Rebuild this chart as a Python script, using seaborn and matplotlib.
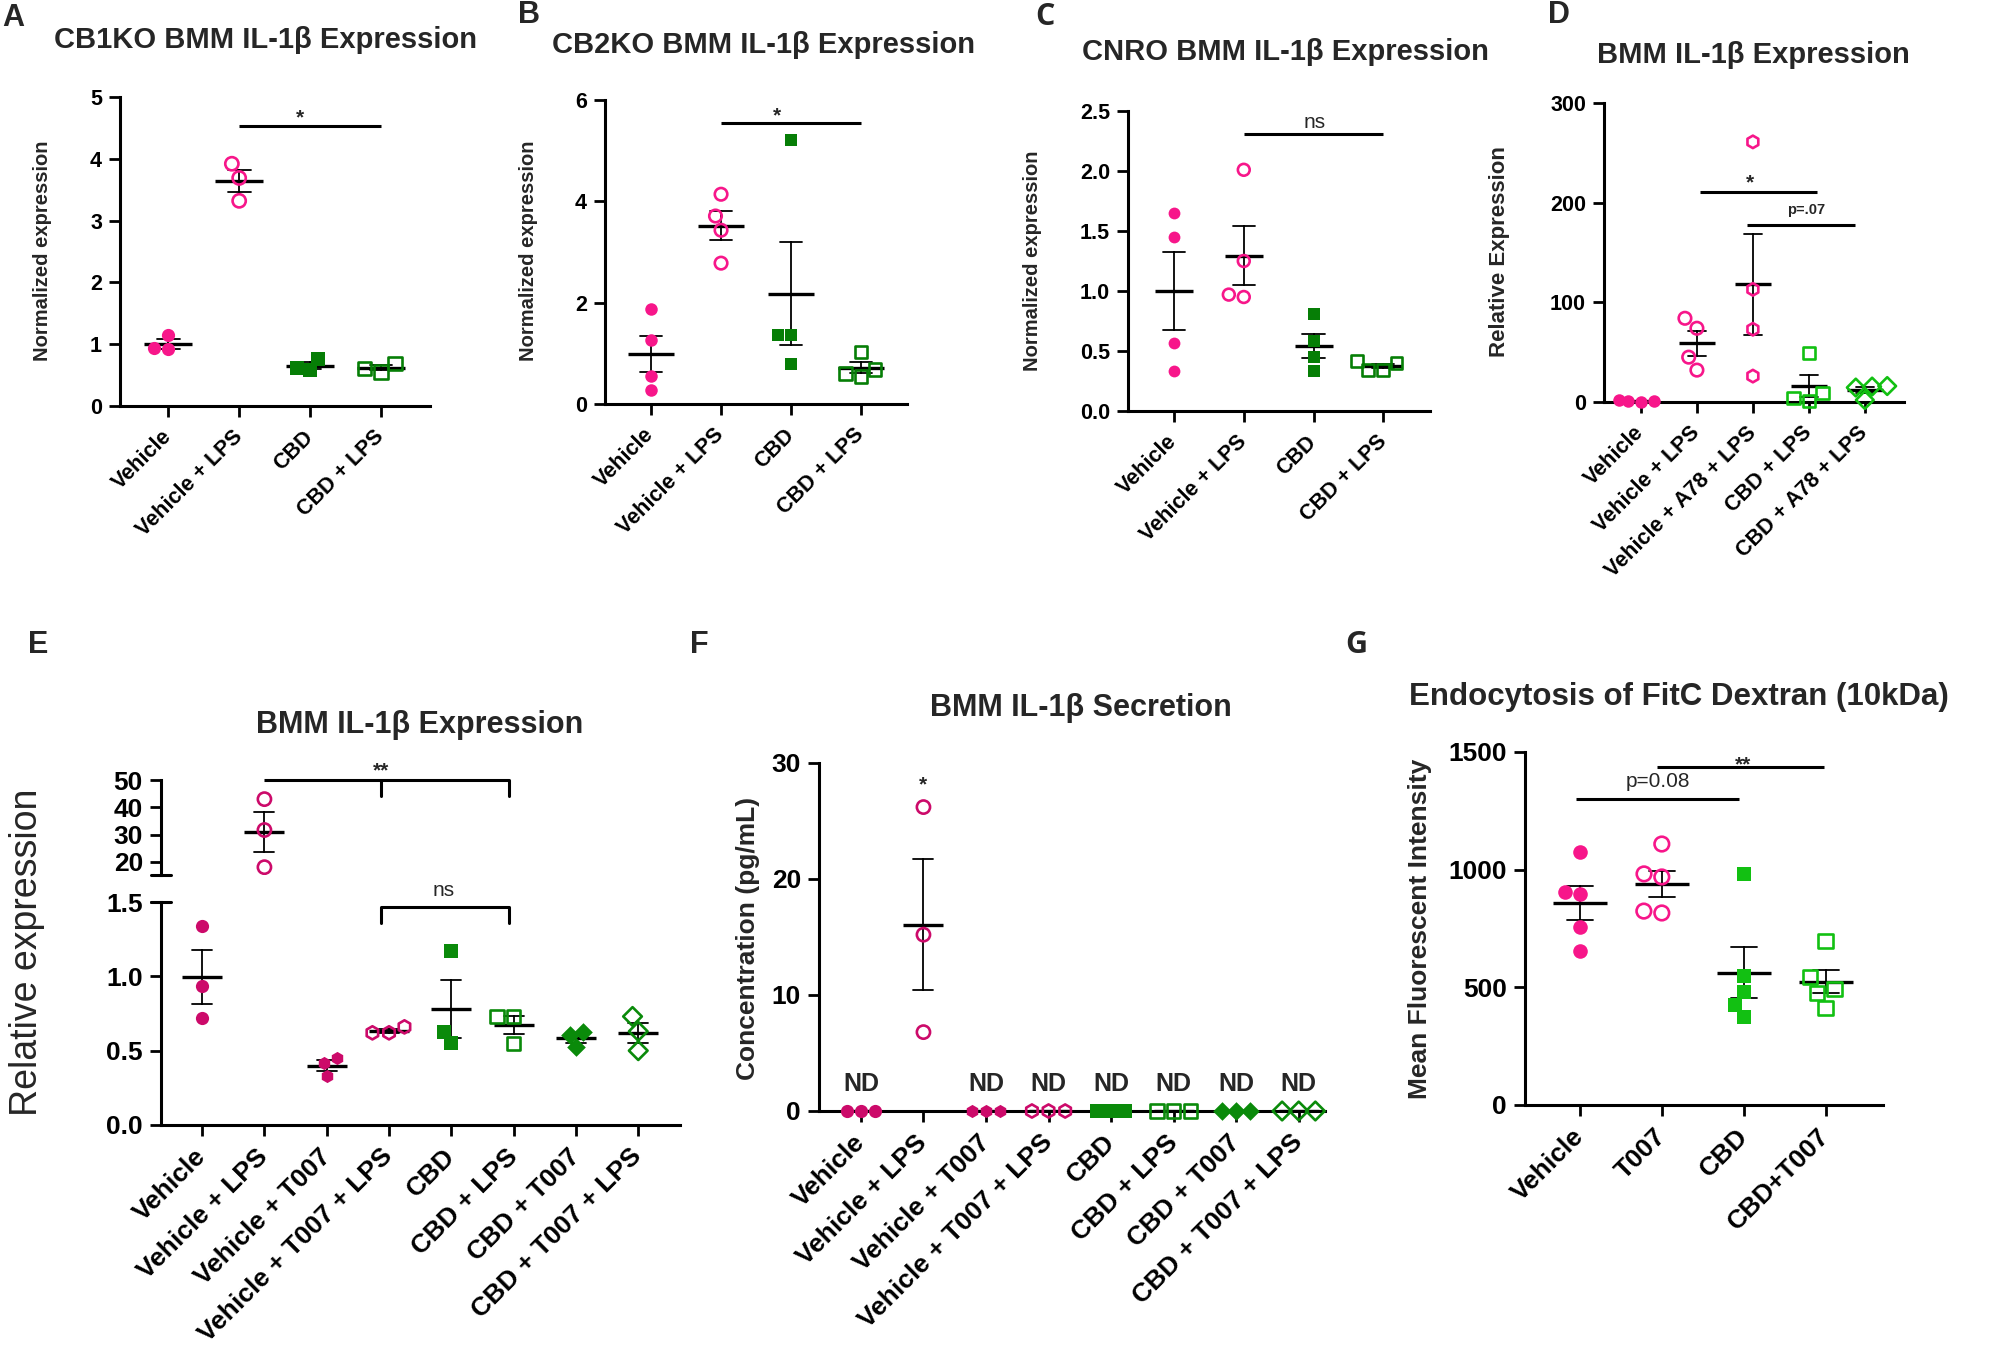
import numpy as np
import pandas as pd
import matplotlib
matplotlib.use("Agg")
import matplotlib.pyplot as plt
import seaborn as sns

sns.set_theme(style="ticks")
plt.rcParams["font.family"] = ["Liberation Sans", "DejaVu Sans"]
plt.rcParams["font.weight"] = "bold"
plt.rcParams["axes.linewidth"] = 2.2
plt.rcParams["axes.edgecolor"] = "black"
plt.rcParams["xtick.color"] = "black"
plt.rcParams["ytick.color"] = "black"

W, H = 1997, 1345

PINK = "#F7168A"
DKGREEN = "#067E06"
LTGREEN = "#12C012"
MAGENTA = "#CC0A6A"
EFGREEN = "#0A8A0A"

# ---- data ----
cats_top = ["Vehicle", "Vehicle + LPS", "CBD", "CBD + LPS"]
a_vals = [[1.15, 0.92, 0.94], [3.92, 3.69, 3.32], [0.58, 0.76, 0.62], [0.55, 0.69, 0.61]]
b_vals = [[1.87, 1.26, 0.55, 0.28], [4.14, 3.71, 3.43, 2.78],
          [5.22, 1.36, 1.36, 0.78], [1.03, 0.54, 0.68, 0.60]]
c_vals = [[1.65, 1.45, 0.57, 0.33], [2.01, 1.25, 0.95, 0.97],
          [0.81, 0.58, 0.45, 0.33], [0.34, 0.42, 0.34, 0.40]]

cats_d = ["Vehicle", "Vehicle + LPS", "Vehicle + A78 + LPS", "CBD + LPS", "CBD + A78 + LPS"]
d_vals = [[0.5, 1.6, 0.9, 1.0], [74, 84, 45, 32], [261, 113, 73, 26],
          [49, 1, 9, 4], [15.5, 14.5, 16, 2]]

cats_ef = ["Vehicle", "Vehicle + LPS", "Vehicle + T007", "Vehicle + T007 + LPS",
           "CBD", "CBD + LPS", "CBD + T007", "CBD + T007 + LPS"]
e_vals = [[1.34, 0.935, 0.72], [43.0, 31.7, 18.1], [0.45, 0.417, 0.33], [0.62, 0.66, 0.62],
          [1.17, 0.55, 0.625], [0.73, 0.73, 0.55], [0.625, 0.605, 0.525], [0.73, 0.63, 0.50]]
f_vals = [[0, 0, 0], [26.2, 15.2, 6.8], [0, 0, 0], [0, 0, 0],
          [0, 0, 0], [0, 0, 0], [0, 0, 0], [0, 0, 0]]
f_nd = ["ND", "", "ND", "ND", "ND", "ND", "ND", "ND"]

cats_g = ["Vehicle", "T007", "CBD", "CBD+T007"]
g_vals = [[1075, 897, 905, 756, 654], [1109, 969, 982, 816, 824],
          [982, 548, 480, 425, 374], [697, 493, 544, 476, 412]]

# marker style per group: (marker, color, filled)
sty_top = [("o", PINK, True), ("o", PINK, False), ("s", DKGREEN, True), ("s", DKGREEN, False)]
sty_d = [("o", PINK, True), ("o", PINK, False), ("h", PINK, False),
         ("s", LTGREEN, False), ("D", LTGREEN, False)]
sty_ef = [("o", MAGENTA, True), ("o", MAGENTA, False), ("h", MAGENTA, True), ("h", MAGENTA, False),
          ("s", EFGREEN, True), ("s", EFGREEN, False), ("D", EFGREEN, True), ("D", EFGREEN, False)]
sty_g = [("o", PINK, True), ("o", PINK, False), ("s", LTGREEN, True), ("s", LTGREEN, False)]


def box(x0, y0, x1, y1):
    return [x0 / W, 1 - y1 / H, (x1 - x0) / W, (y1 - y0) / H]


def ftext(x, y, s, **kw):
    fig.text(x / W, 1 - y / H, s, **kw)


def long_df(cats, vals):
    rows = [(c, v) for c, vs in zip(cats, vals) for v in vs]
    return pd.DataFrame(rows, columns=["group", "value"])


def dots(ax, cats, vals, styles, size, mean_pts, clip=False):
    df = long_df(cats, vals)
    for cat, (marker, color, filled) in zip(cats, styles):
        sub = df[df["group"] == cat]
        n0 = len(ax.collections)
        sns.swarmplot(data=sub, x="group", y="value", order=cats, marker=marker,
                      color=color, size=size, linewidth=0, ax=ax)
        for pts in list(ax.collections[n0:]):
            if len(pts.get_offsets()) == 0:
                pts.remove()
                continue
            pts.set_clip_on(clip)
            if not filled:
                pts.set_facecolor("none")
                pts.set_edgecolor(color)
                pts.set_linewidth(1.9)
    sns.pointplot(data=df, x="group", y="value", order=cats, errorbar="se", capsize=0.32,
                  color="black", linestyle="none", marker="_", markersize=mean_pts,
                  markeredgewidth=2.4, err_kws={"linewidth": 1.3}, ax=ax)


def style_axis(ax, cats, xlim, ylim, yticks, tick_fs, cat_fs):
    ax.set_xlim(*xlim)
    ax.set_ylim(*ylim)
    ax.set_yticks(yticks)
    ax.set_xticks(range(len(cats)))
    ax.set_xticklabels(cats, rotation=45, ha="right", va="center", rotation_mode="anchor",
                       fontsize=cat_fs, fontweight="bold")
    ax.set_xlabel("")
    ax.set_ylabel("")
    sns.despine(ax=ax)
    ax.tick_params(length=8, width=2, labelsize=tick_fs, pad=5)
    ax.tick_params(axis="x", pad=12)


def bar(ax, x1, x2, y, lw=2.2):
    ax.plot([x1, x2], [y, y], color="black", lw=lw, clip_on=False, solid_capstyle="butt")


fig = plt.figure(figsize=(W / 100, H / 100), dpi=100)

# ---------- A ----------
ax = fig.add_axes(box(120, 97, 430, 406))
dots(ax, cats_top, a_vals, sty_top, 9.5, 34)
style_axis(ax, cats_top, (-0.68, 3.69), (0, 5), range(0, 6), 15.5, 16)
bar(ax, 1, 3, 4.53)
ax.text(1.85, 4.66, "*", ha="center", va="center", fontsize=15, clip_on=False)
ftext(265, 40, "CB1KO BMM IL-1β Expression", ha="center", va="center", fontsize=21)
ftext(43, 251, "Normalized expression", rotation=90, ha="center", va="center", fontsize=14.5)
ftext(2, 18, "A", ha="left", va="center", fontsize=22)

# ---------- B ----------
ax = fig.add_axes(box(605, 100, 907, 404))
dots(ax, cats_top, b_vals, sty_top, 9, 33)
style_axis(ax, cats_top, (-0.66, 3.66), (0, 6), [0, 2, 4, 6], 15.5, 16)
bar(ax, 1, 3, 5.54)
ax.text(1.8, 5.68, "*", ha="center", va="center", fontsize=15, clip_on=False)
ftext(763, 45, "CB2KO BMM IL-1β Expression", ha="center", va="center", fontsize=21)
ftext(529, 251, "Normalized expression", rotation=90, ha="center", va="center", fontsize=14.5)
ftext(518, 15, "B", ha="left", va="center", fontsize=22)

# ---------- C ----------
ax = fig.add_axes(box(1128, 111, 1430, 411))
dots(ax, cats_top, c_vals, sty_top, 8.5, 27)
style_axis(ax, cats_top, (-0.66, 3.67), (0, 2.5), [0, 0.5, 1.0, 1.5, 2.0, 2.5], 15.5, 16)
bar(ax, 1, 3, 2.31)
ax.text(2.02, 2.40, "ns", ha="center", va="center", fontsize=15, fontweight="normal", clip_on=False)
ftext(1285, 52, "CNRO BMM IL-1β Expression", ha="center", va="center", fontsize=21)
ftext(1033, 261, "Normalized expression", rotation=90, ha="center", va="center", fontsize=14.5)
ftext(1035, 17, "C", ha="left", va="center", fontsize=22, family=["Open Sans", "DejaVu Sans"])

# ---------- D ----------
ax = fig.add_axes(box(1604, 103, 1904, 402))
dots(ax, cats_d, d_vals, sty_d, 9, 26.5)
style_axis(ax, cats_d, (-0.66, 4.7), (0, 300), [0, 100, 200, 300], 15.5, 16)
bar(ax, 1.05, 3.14, 211)
ax.text(1.95, 220, "*", ha="center", va="center", fontsize=15, clip_on=False)
bar(ax, 1.89, 3.82, 178)
ax.text(2.95, 193, "p=.07", ha="center", va="center", fontsize=10.5, clip_on=False)
ftext(1753, 55, "BMM IL-1β Expression", ha="center", va="center", fontsize=21)
ftext(1500, 252, "Relative Expression", rotation=90, ha="center", va="center", fontsize=16)
ftext(1548, 15, "D", ha="left", va="center", fontsize=22)

# ---------- E (broken y axis) ----------
ax_hi = fig.add_axes(box(161, 780, 680, 875))
ax_lo = fig.add_axes(box(161, 902, 680, 1125))
for a in (ax_hi, ax_lo):
    dots(a, cats_ef, e_vals, sty_ef, 9.5, 29.5, clip=True)
style_axis(ax_lo, cats_ef, (-0.66, 7.67), (0, 1.5), [0, 0.5, 1.0, 1.5], 19, 19)
style_axis(ax_hi, cats_ef, (-0.66, 7.67), (15.24, 50), [20, 30, 40, 50], 19, 19)
ax_hi.spines["bottom"].set_visible(False)
ax_hi.tick_params(axis="x", bottom=False, labelbottom=False)
for a, yb in ((ax_hi, 0), (ax_lo, 1)):
    a.plot([-0.02, 0.02], [yb, yb], transform=a.transAxes, color="black", lw=2.2, clip_on=False)
# ** bracket (upper) and ns bracket (lower)
bar(ax_hi, 1, 4.93, 50)
for xt in (2.87, 4.93):
    ax_hi.plot([xt, xt], [50, 44.1], color="black", lw=2.2, clip_on=False)
ax_hi.text(2.87, 53.2, "**", ha="center", va="center", fontsize=15, clip_on=False)
bar(ax_lo, 2.87, 4.93, 1.466)
for xt in (2.87, 4.93):
    ax_lo.plot([xt, xt], [1.466, 1.358], color="black", lw=2.2, clip_on=False)
ax_lo.text(3.88, 1.58, "ns", ha="center", va="center", fontsize=15, fontweight="normal", clip_on=False)
ftext(420, 725, "BMM IL-1β Expression", ha="center", va="center", fontsize=22)
ftext(27, 952, "Relative expression", rotation=90, ha="center", va="center", fontsize=27,
      fontweight="normal")
ftext(28, 645, "E", ha="left", va="center", fontsize=22)

# ---------- F ----------
ax = fig.add_axes(box(819, 763, 1325, 1111))
dots(ax, cats_ef, f_vals, sty_ef, 9.5, 29.5)
style_axis(ax, cats_ef, (-0.67, 7.42), (0, 30), [0, 10, 20, 30], 19, 19)
for i, s in enumerate(f_nd):
    if s:
        ax.text(i, 2.3, s, ha="center", va="center", fontsize=18, clip_on=False)
ax.text(1, 28.1, "*", ha="center", va="center", fontsize=15, clip_on=False)
ftext(1081, 708, "BMM IL-1β Secretion", ha="center", va="center", fontsize=22)
ftext(748, 938, "Concentration (pg/mL)", rotation=90, ha="center", va="center", fontsize=19)
ftext(690, 645, "F", ha="left", va="center", fontsize=22)

# ---------- G ----------
ax = fig.add_axes(box(1525, 752, 1883, 1105))
dots(ax, cats_g, g_vals, sty_g, 10.5, 39)
style_axis(ax, cats_g, (-0.67, 3.7), (0, 1500), [0, 500, 1000, 1500], 19, 19)
bar(ax, -0.05, 1.94, 1300)
ax.text(0.95, 1375, "p=0.08", ha="center", va="center", fontsize=15, fontweight="normal", clip_on=False)
bar(ax, 0.94, 2.98, 1436)
ax.text(1.99, 1446, "**", ha="center", va="center", fontsize=15, clip_on=False)
ftext(1409, 697, "Endocytosis of FitC Dextran (10kDa)", ha="left", va="center", fontsize=22.5)
ftext(1420, 929, "Mean Fluorescent Intensity", rotation=90, ha="center", va="center", fontsize=19)
ftext(1345, 645, "G", ha="left", va="center", fontsize=22, family=["Open Sans", "DejaVu Sans"])

fig.savefig("out.png", dpi=100)
